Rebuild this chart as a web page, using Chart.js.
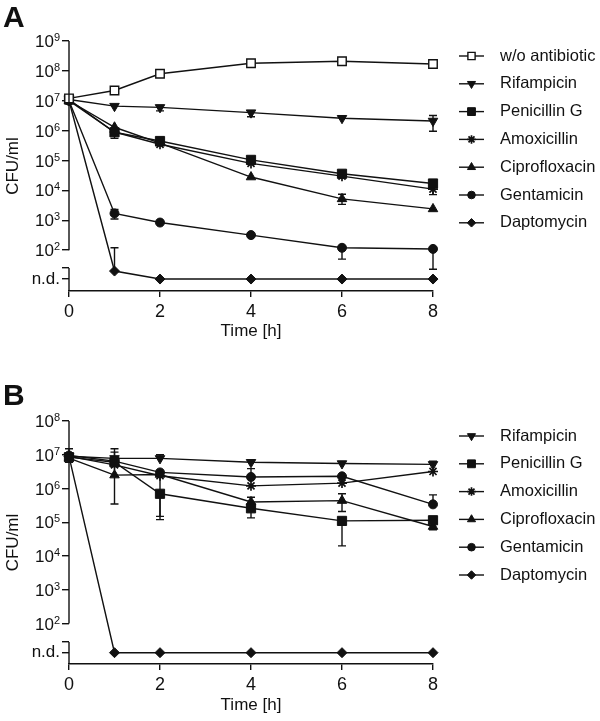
<!DOCTYPE html>
<html>
<head>
<meta charset="utf-8">
<script src="https://cdn.jsdelivr.net/npm/chart.js@4.4.1/dist/chart.umd.min.js"></script>
<style>
  body { margin: 0; background: #fff; }
  .panel { position: absolute; left: 0; width: 600px; }
</style>
</head>
<body>
<div class="panel" style="top:0;height:360px"><canvas id="chartA" width="600" height="360"></canvas></div>
<div class="panel" style="top:360px;height:361px"><canvas id="chartB" width="600" height="361"></canvas></div>
<script>
// sampling times [h]
const times = [0, 1, 2, 4, 6, 8];
const ND = 0; // not detected

// Panel A, CFU/ml
const aNoAb = [1.2e7, 2.2e7, 8e7, 1.8e8, 2.1e8, 1.7e8];
const aRif = [1.1e7, 6.6e6, 6e6, 4e6, 2.6e6, 2.1e6];
const aRifLo = [null, null, 4.6e6, 2.9e6, null, 9.5e5];
const aRifHi = [null, null, null, null, null, 3.2e6];
const aPen = [1.1e7, 8.8e5, 4.5e5, 1.05e5, 3.6e4, 1.7e4];
const aPenLo = [null, 5.5e5, null, null, null, null];
const aAmox = [1.0e7, 9e5, 3.5e5, 8e4, 3e4, 1.1e4];
const aAmoxLo = [null, null, null, null, null, 7.2e3];
const aCipro = [1.0e7, 1.3e6, 3.8e5, 2.8e4, 5.2e3, 2.4e3];
const aCiproLo = [null, null, null, null, 3.4e3, null];
const aCiproHi = [null, null, null, null, 7.4e3, null];
const aGent = [1.0e7, 1.7e3, 8.4e2, 3.2e2, 1.2e2, 1.1e2];
const aGentLo = [null, 1.1e3, null, null, 50, 23];
const aGentHi = [null, 2.3e3, null, null, null, null];
const aDapto = [1.0e7, 20, ND, ND, ND, ND];
const aDaptoHi = [null, 120, null, null, null, null];

// Panel B, CFU/ml
const bRif = [9e6, 7.8e6, 7.8e6, 6e6, 5.5e6, 5.2e6];
const bRifHi = [null, null, 1e7, null, null, 6.5e6];
const bPen = [8.5e6, 6e6, 7e5, 2.6e5, 1.1e5, 1.15e5];
const bPenLo = [null, null, 1.2e5, 1.35e5, 2e4, null];
const bPenHi = [1.5e7, 1.5e7, null, null, null, 1.4e5];
const bAmox = [9e6, 5e6, 2.4e6, 1.2e6, 1.45e6, 3.2e6];
const bAmoxHi = [null, 1.2e7, null, null, null, null];
const bCipro = [8e6, 2.5e6, 2.6e6, 4e5, 4.4e5, 7.5e4];
const bCiproLo = [null, 3.5e5, 1.5e5, null, 2.1e5, 6e4];
const bCiproHi = [null, null, null, 5.5e5, 7e5, null];
const bGent = [9.5e6, 6.5e6, 3e6, 2.2e6, 2.3e6, 3.4e5];
const bGentLo = [6e6, null, null, null, null, null];
const bGentHi = [null, null, null, 3.9e6, null, 6.5e5];
const bDapto = [9e6, ND, ND, ND, ND, ND];

const INK = '#111';
const FONT = "'Liberation Sans', Arial, sans-serif";
Chart.defaults.font.family = FONT;
Chart.defaults.color = INK;

const markers = {
    'w/o antibiotic': { pointStyle: 'rect', radius: 6, fill: '#fff' },
    'Rifampicin': { pointStyle: 'triangle', rotation: 180, radius: 5.5 },
    'Penicillin G': { pointStyle: 'rect', radius: 6.5 },
    'Amoxicillin': { pointStyle: 'star', radius: 5, width: 1.7 },
    'Ciprofloxacin': { pointStyle: 'triangle', radius: 5.5 },
    'Gentamicin': { pointStyle: 'circle', radius: 4.5 },
    'Daptomycin': { pointStyle: 'rectRot', radius: 5 }
};

function makeSeries(label, values, nd, lo, hi) {
    const m = markers[label];
    const toY = v => (v === ND ? nd : Math.log10(v));
    return {
        label: label,
        data: values.map((v, i) => ({ x: times[i], y: toY(v) })),
        errLo: (lo || []).map(v => (v == null ? null : Math.log10(v))),
        errHi: (hi || []).map(v => (v == null ? null : Math.log10(v))),
        borderColor: INK,
        borderWidth: 1.4,
        pointStyle: m.pointStyle,
        pointRotation: m.rotation || 0,
        pointRadius: m.radius,
        pointHoverRadius: m.radius,
        pointBackgroundColor: m.fill || INK,
        pointBorderColor: INK,
        pointBorderWidth: m.width || (m.fill ? 1.4 : 1),
        tension: 0,
        clip: false
    };
}

function decorPlugin(letter, letterY, nd, brk, maxExp) {
    return {
        id: 'decor' + letter,
        beforeDatasetsDraw(chart) {
            // error bars
            const ctx = chart.ctx;
            const xs = chart.scales.x, ys = chart.scales.y;
            ctx.save();
            ctx.strokeStyle = INK;
            ctx.lineWidth = 1.4;
            chart.data.datasets.forEach(ds => {
                ds.data.forEach((p, i) => {
                    const px = xs.getPixelForValue(p.x);
                    const py = ys.getPixelForValue(p.y);
                    [ds.errLo[i], ds.errHi[i]].forEach(e => {
                        if (e == null) return;
                        const ey = ys.getPixelForValue(e);
                        ctx.beginPath();
                        ctx.moveTo(px, py);
                        ctx.lineTo(px, ey);
                        ctx.moveTo(px - 4, ey);
                        ctx.lineTo(px + 4, ey);
                        ctx.stroke();
                    });
                });
            });
            ctx.restore();
        },
        afterDraw(chart) {
            const ctx = chart.ctx;
            const ys = chart.scales.y;
            const area = chart.chartArea;
            const ax = area.left;
            ctx.save();
            // broken y axis
            ctx.strokeStyle = INK;
            ctx.lineWidth = 1.4;
            ctx.beginPath();
            ctx.moveTo(ax, ys.getPixelForValue(maxExp));
            ctx.lineTo(ax, ys.getPixelForValue(2));
            ctx.moveTo(ax, ys.getPixelForValue(brk));
            ctx.lineTo(ax, area.bottom);
            ctx.stroke();

            // y tick labels
            ctx.fillStyle = INK;
            ctx.textAlign = 'right';
            const right = ax - 9;
            for (let e = 2; e <= maxExp; e++) {
                const y = ys.getPixelForValue(e);
                ctx.font = '11px ' + FONT;
                const sup = String(e);
                const w = ctx.measureText(sup).width;
                ctx.textBaseline = 'alphabetic';
                ctx.fillText(sup, right, y);
                ctx.font = '17px ' + FONT;
                ctx.fillText('10', right - w, y + 6);
            }
            ctx.font = '17px ' + FONT;
            ctx.textBaseline = 'middle';
            ctx.fillText('n.d.', right, ys.getPixelForValue(nd));

            // panel letter
            ctx.textAlign = 'left';
            ctx.textBaseline = 'alphabetic';
            ctx.font = 'bold 30px ' + FONT;
            ctx.fillText(letter, 3, letterY);

            // legend
            const lx = area.right + 26;
            let ly = area.top + 15;
            chart.data.datasets.forEach(ds => {
                ctx.strokeStyle = INK;
                ctx.lineWidth = 1.4;
                ctx.beginPath();
                ctx.moveTo(lx, ly);
                ctx.lineTo(lx + 25, ly);
                ctx.stroke();
                ctx.fillStyle = ds.pointBackgroundColor;
                ctx.strokeStyle = INK;
                ctx.lineWidth = ds.pointBorderWidth;
                Chart.helpers.drawPoint(ctx, {
                    pointStyle: ds.pointStyle,
                    rotation: ds.pointRotation,
                    radius: ds.pointRadius * 0.85,
                    borderWidth: ds.pointBorderWidth
                }, lx + 12.5, ly);
                ctx.fillStyle = INK;
                ctx.font = '16.5px ' + FONT;
                ctx.textAlign = 'left';
                ctx.textBaseline = 'middle';
                ctx.fillText(ds.label, lx + 41, ly);
                ly += 27.8;
            });
            ctx.restore();
        }
    };
}

function makeChart(canvasId, datasets, opts) {
    const yTicks = [opts.nd, opts.brk];
    for (let e = 2; e <= opts.max; e++) yTicks.push(e);
    return new Chart(document.getElementById(canvasId), {
        type: 'line',
        data: { datasets: datasets },
        options: {
            responsive: false,
            animation: false,
            layout: { padding: { left: 0, top: opts.top, right: 167, bottom: 0 } },
            plugins: { legend: { display: false }, tooltip: { enabled: false } },
            scales: {
                x: {
                    type: 'linear',
                    min: 0,
                    max: 8,
                    ticks: { stepSize: 2, font: { size: 18 }, color: INK, padding: 4 },
                    grid: { drawOnChartArea: false, tickLength: 6, color: INK, lineWidth: 1.4 },
                    border: { color: INK, width: 1.4 },
                    title: { display: true, text: 'Time [h]', font: { size: 17 }, color: INK,
                             padding: { top: 0, bottom: opts.xTitlePad } },
                    afterFit: s => { s.height = opts.xHeight; }
                },
                y: {
                    type: 'linear',
                    min: opts.min,
                    max: opts.max,
                    afterBuildTicks: s => { s.ticks = yTicks.map(v => ({ value: v })); },
                    ticks: { display: false },
                    grid: { drawOnChartArea: false, tickLength: 7, color: INK, lineWidth: 1.4 },
                    border: { display: false },
                    title: { display: true, text: 'CFU/ml', font: { size: 17 }, color: INK,
                             padding: { top: 3, bottom: 0 } },
                    afterFit: s => { s.width = 69; }
                }
            }
        },
        plugins: [decorPlugin(opts.letter, opts.letterY, opts.nd, opts.brk, opts.max)]
    });
}

// Panel A
const ndA = 2 - 29 / 30;
makeChart('chartA', [
    makeSeries('w/o antibiotic', aNoAb, ndA),
    makeSeries('Rifampicin', aRif, ndA, aRifLo, aRifHi),
    makeSeries('Penicillin G', aPen, ndA, aPenLo),
    makeSeries('Amoxicillin', aAmox, ndA, aAmoxLo),
    makeSeries('Ciprofloxacin', aCipro, ndA, aCiproLo, aCiproHi),
    makeSeries('Gentamicin', aGent, ndA, aGentLo, aGentHi),
    makeSeries('Daptomycin', aDapto, ndA, null, aDaptoHi)
], { letter: 'A', letterY: 27, top: 41, min: 2 - 41 / 30, max: 9, nd: ndA, brk: 2 - 18 / 30,
     xHeight: 69, xTitlePad: 18 });

// Panel B
const ndB = 2 - 29 / 33.7;
makeChart('chartB', [
    makeSeries('Rifampicin', bRif, ndB, null, bRifHi),
    makeSeries('Penicillin G', bPen, ndB, bPenLo, bPenHi),
    makeSeries('Amoxicillin', bAmox, ndB, null, bAmoxHi),
    makeSeries('Ciprofloxacin', bCipro, ndB, bCiproLo, bCiproHi),
    makeSeries('Gentamicin', bGent, ndB, bGentLo, bGentHi),
    makeSeries('Daptomycin', bDapto, ndB)
], { letter: 'B', letterY: 45, top: 61, min: 2 - 40.3 / 33.7, max: 8, nd: ndB, brk: 2 - 18.3 / 33.7,
     xHeight: 57, xTitlePad: 5 });
</script>
</body>
</html>
